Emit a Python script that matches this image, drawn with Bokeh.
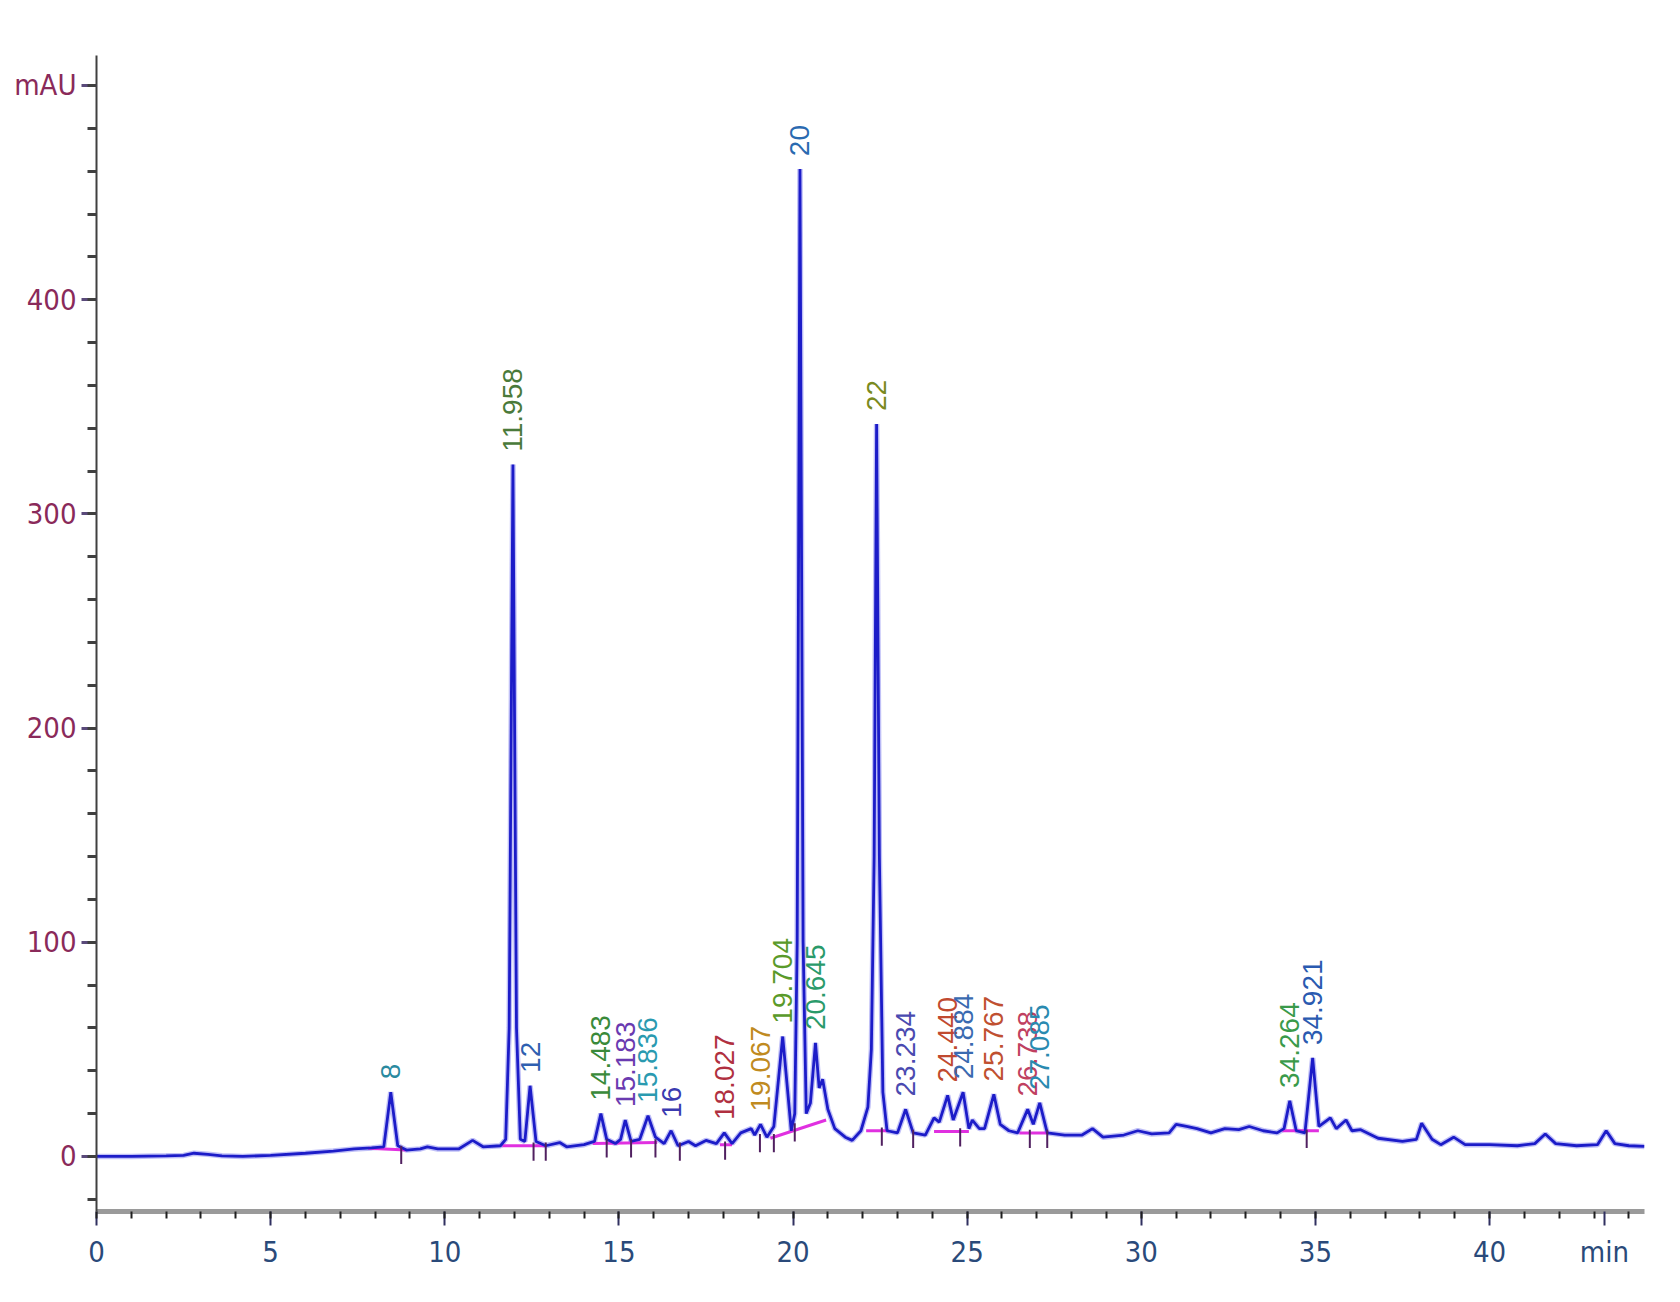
import math
from bokeh.plotting import figure
from bokeh.models import FixedTicker, Range1d, ColumnDataSource
from bokeh.core.properties import value
from bokeh.embed import file_html
from bokeh.resources import INLINE

# ---- chromatogram trace (min, mAU) ----
time_min = [0.0, 1.0, 2.0, 2.5, 2.8, 3.2, 3.6, 4.2, 5.0, 6.0, 6.8, 7.4, 7.9, 8.25, 8.45, 8.65, 8.9,
            9.3, 9.5, 9.8, 10.4, 10.8, 11.1, 11.6, 11.75, 11.85, 11.958, 12.06, 12.17, 12.3, 12.45,
            12.62, 12.9, 13.3, 13.5, 14.0, 14.3, 14.483, 14.65, 14.9, 15.05, 15.183, 15.35, 15.6,
            15.836, 16.05, 16.3, 16.5, 16.7, 17.0, 17.2, 17.5, 17.8, 18.027, 18.25, 18.5, 18.8, 18.9,
            19.067, 19.25, 19.45, 19.704, 19.95, 20.05, 20.12, 20.2, 20.29, 20.38, 20.5, 20.645,
            20.75, 20.85, 21.0, 21.2, 21.5, 21.7, 21.95, 22.15, 22.25, 22.33, 22.4, 22.48, 22.58,
            22.7, 23.0, 23.234, 23.45, 23.8, 24.05, 24.2, 24.44, 24.6, 24.884, 25.05, 25.15, 25.35,
            25.5, 25.767, 25.95, 26.2, 26.45, 26.738, 26.9, 27.085, 27.3, 27.8, 28.3, 28.6, 28.9,
            29.5, 29.9, 30.3, 30.8, 31.0, 31.3, 31.6, 32.0, 32.4, 32.8, 33.1, 33.5, 33.9, 34.1,
            34.264, 34.45, 34.7, 34.921, 35.1, 35.43, 35.6, 35.88, 36.05, 36.3, 36.8, 37.5, 37.9,
            38.05, 38.35, 38.6, 38.97, 39.3, 40.0, 40.8, 41.3, 41.6, 41.9, 42.5, 43.1, 43.35, 43.6,
            44.0, 44.45]
signal_mau = [0, 0, 0.3, 0.5, 1.5, 1.0, 0.3, 0, 0.5, 1.5, 2.5, 3.5, 4, 4.5, 30, 5, 3,
              3.5, 4.5, 3.5, 3.5, 7.5, 4.5, 5, 8, 60, 323, 60, 8, 7, 33,
              7, 5, 6.5, 4.5, 5.5, 7, 20, 8, 6, 8, 17, 7, 8,
              19, 9, 6, 12, 5, 7, 5, 7.5, 6, 11, 6, 11, 13, 10,
              15, 9, 14, 56, 12, 20, 100, 461, 100, 20, 25, 53,
              32, 36, 22, 13, 9, 7.5, 12, 23, 50, 140, 342, 140, 30,
              12, 11, 22, 11, 10, 18, 16, 28.5, 17, 30, 13, 17, 13,
              13, 29, 15, 12, 11, 22, 15, 25, 11, 10, 10, 13, 9,
              10, 12, 10.5, 11, 15, 14, 13, 11, 13, 12.5, 14, 12, 11, 13,
              26, 12, 11, 46, 14, 18, 13, 17, 12, 12.5, 8.5, 7, 8,
              15.5, 8, 5.5, 9, 5.5, 5.5, 5, 6, 10.5, 6, 5, 5.5, 12, 6,
              5, 4.7]

# ---- peak annotations ----
peak_labels = ["8", "11.958", "12", "14.483", "15.183", "15.836", "16", "18.027", "19.067",
               "19.704", "20", "20.645", "22", "23.234", "24.440", "24.884", "25.767",
               "26.738", "27.085", "34.264", "34.921"]
peak_times = [8.45, 11.958, 12.45, 14.483, 15.183, 15.836, 16.5, 18.027, 19.067,
              19.704, 20.2, 20.645, 22.4, 23.234, 24.44, 24.884, 25.767,
              26.738, 27.085, 34.264, 34.921]
peak_heights = [30, 323, 33, 20, 17, 19, 12, 11, 15,
                56, 461, 53, 342, 22, 28.5, 30, 29,
                22, 25, 26, 46]
label_colors = ["#2a8a9f", "#4a7a3a", "#2f5fb0", "#3a8a3a", "#6a3ab0", "#2a9ab0", "#3a3ab0",
                "#b03040", "#c08a20", "#5a9a2a", "#2a6ab0", "#2a9a6a", "#7a8a20", "#4a4ab0",
                "#c04a30", "#3a6ab0", "#c05030", "#c04060", "#2a8ab0", "#3a9a4a", "#2a5ab0"]

# ---- integration baselines (magenta) ----
base_t0 = [7.8, 11.65, 14.25, 17.9, 19.35, 22.1, 24.05, 26.5, 34.05]
base_v0 = [3.8, 5.0, 6.0, 5.5, 8.5, 12.0, 11.7, 11.0, 12.0]
base_t1 = [8.9, 12.9, 16.1, 18.25, 20.95, 22.75, 25.05, 27.35, 35.1]
base_v1 = [3.0, 5.0, 6.5, 5.5, 17.0, 12.0, 11.7, 11.0, 12.0]

# ---- peak start / end marks ----
mark_t = [8.75, 12.55, 12.9, 14.65, 15.35, 16.05, 16.75, 18.05, 19.05, 19.45, 20.05,
          22.55, 23.45, 24.8, 26.8, 27.3, 34.75]
mark_v = [3.5, 5.0, 5.0, 6.5, 6.5, 6.5, 5.0, 5.5, 9.0, 9.0, 14.0,
          12.0, 11.0, 11.7, 11.0, 11.0, 11.0]

x_major = [0, 5, 10, 15, 20, 25, 30, 35, 40]
x_minor = list(range(0, 45))
y_major = [0, 100, 200, 300, 400, 500]
y_minor = list(range(-20, 520, 20))

AXIS_FONT = "DejaVu Sans Condensed, Liberation Sans, sans-serif"

p = figure(width=1664, height=1286, output_backend="svg", toolbar_location=None,
           x_range=Range1d(0, 44.45), y_range=Range1d(-25.7, 514),
           min_border_left=96, min_border_right=20, min_border_top=55, min_border_bottom=75)
p.outline_line_color = None
p.xgrid.visible = False
p.ygrid.visible = False
p.background_fill_color = "white"
p.border_fill_color = "white"

# trace with soft halo
src = ColumnDataSource(dict(t=time_min, v=signal_mau))
p.line("t", "v", source=src, line_color="#8c8cf0", line_width=5.5, line_alpha=0.55)

# baselines
p.segment(x0=base_t0, y0=base_v0, x1=base_t1, y1=base_v1, line_color="#e030e0", line_width=3)
p.line("t", "v", source=src, line_color="#1c1cc8", line_width=2.8)

# start/end marks
p.segment(x0=mark_t, y0=[v + 1.5 for v in mark_v], x1=mark_t, y1=[v - 7 for v in mark_v],
          line_color="#502060", line_width=2)

# peak labels (rotated)
p.text(x=peak_times, y=[h + 6 for h in peak_heights], text=peak_labels, angle=math.pi / 2,
       text_align="left", text_baseline="middle", text_font=value("Liberation Sans"),
       text_font_size="28px", text_color=label_colors)

# x axis
p.xaxis.ticker = FixedTicker(ticks=x_major + [43.3], minor_ticks=x_minor)
p.xaxis.major_label_overrides = {43.3: "min"}
p.xaxis.axis_line_color = "#9a9a9a"
p.xaxis.axis_line_width = 5
p.xaxis.major_tick_line_color = "#303060"
p.xaxis.major_tick_line_width = 2
p.xaxis.major_tick_out = 14
p.xaxis.major_tick_in = 0
p.xaxis.minor_tick_line_color = "#202020"
p.xaxis.minor_tick_line_width = 2
p.xaxis.minor_tick_out = 7
p.xaxis.minor_tick_in = 0
p.xaxis.major_label_standoff = 9
p.xaxis.major_label_text_font = AXIS_FONT
p.xaxis.major_label_text_font_size = "29px"
p.xaxis.major_label_text_color = "#2a4a7a"

# y axis
p.yaxis.ticker = FixedTicker(ticks=y_major, minor_ticks=y_minor)
p.yaxis.major_label_overrides = {500: "mAU"}
p.yaxis.axis_line_color = "#404040"
p.yaxis.axis_line_width = 2
p.yaxis.major_tick_line_color = "#5a4a7a"
p.yaxis.major_tick_line_width = 3
p.yaxis.major_tick_out = 15
p.yaxis.major_tick_in = 0
p.yaxis.minor_tick_line_color = "#404040"
p.yaxis.minor_tick_line_width = 3
p.yaxis.minor_tick_out = 9
p.yaxis.minor_tick_in = 0
p.yaxis.major_label_standoff = 5
p.yaxis.major_label_text_font = AXIS_FONT
p.yaxis.major_label_text_font_size = "29px"
p.yaxis.major_label_text_color = "#8a2a5a"

open("out.html", "w").write(file_html(p, INLINE))
